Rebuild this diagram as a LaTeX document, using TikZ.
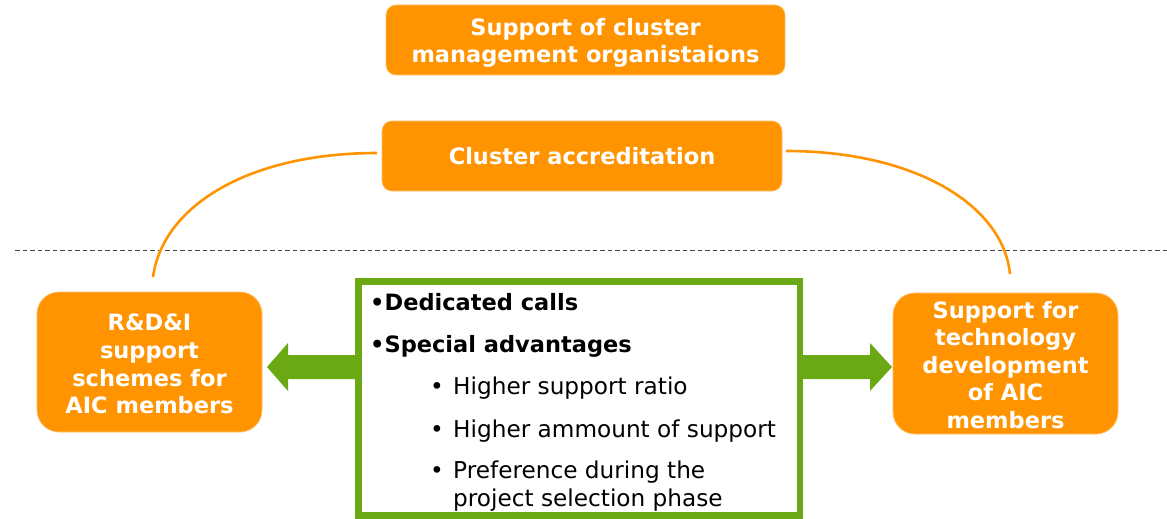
\documentclass[tikz,border=0pt]{standalone}
\usepackage{fontspec}
\setmainfont{DejaVu Sans}
\definecolor{aorange}{RGB}{255,148,0}
\definecolor{agreen}{RGB}{106,168,20}
\definecolor{adash}{RGB}{70,70,70}
\begin{document}
\begin{tikzpicture}[x=1pt,y=-1pt,
  obox/.style={fill=aorange,draw=aorange!60!white,line width=0.8pt,text=white,
    font=\fontsize{22.5}{27.5}\selectfont\bfseries,align=center,inner sep=0pt},
  topbox/.style={obox,rounded corners=10pt},
  sidebox/.style={obox,rounded corners=22pt},
  wtext/.style={text=white,font=\fontsize{22.5}{27}\selectfont\bfseries,align=center,inner sep=0pt},
  arc/.style={draw=aorange,line width=2.6pt},
  txt/.style={anchor=base west,inner sep=0pt,font=\fontsize{23.2}{28}\selectfont},
  btxt/.style={anchor=base west,inner sep=0pt,font=\fontsize{22.5}{28}\selectfont\bfseries},
  arrowfill/.style={fill=agreen}]
\useasboundingbox (0,0) rectangle (1167,519);
% boxes
\node[topbox,minimum width=399pt,minimum height=70pt] (cmo) at (585.5,40) {};
\node[wtext] (cmotext) at (585.5,43) {Support of cluster\\management organistaions};
\node[topbox,minimum width=400pt,minimum height=70pt] (acc) at (582,156) {Cluster accreditation};
\node[sidebox,minimum width=225pt,minimum height=140pt] (rd) at (149.5,362) {};
\node[wtext,font=\fontsize{22.5}{27.7}\selectfont\bfseries] (rdtext) at (149.5,364) {R\&D\&I\\support\\schemes for\\AIC members};
\node[sidebox,minimum width=225pt,minimum height=141pt] (tech) at (1005.5,363.5) {};
\node[wtext,font=\fontsize{22.5}{27.5}\selectfont\bfseries] (techtext) at (1005.5,365) {Support for\\technology\\development\\of AIC\\members};
% dashed line
\coordinate (dl) at (15,250);
\coordinate (dr) at (1167,250);
\draw[adash,line width=1pt,dash pattern=on 4.5pt off 3pt] (dl) -- (dr);
% arcs
\coordinate (la) at (377,153);
\coordinate (lb) at (153,277);
\coordinate (ra) at (786,151);
\coordinate (rb) at (1010,274);
\draw[arc] (la) .. controls (250,153) and (163,205) .. (lb);
\draw[arc] (ra) .. controls (915,151) and (1003,205) .. (rb);
% green box
\node[draw=agreen,line width=6.5pt,fill=white,minimum width=441.5pt,minimum height=234pt,inner sep=0pt] (gb) at (579,398.5) {};
% arrows
\fill[arrowfill] (356,355) -- (288,355) -- (288,343) -- (267,367) -- (288,391) -- (288,379) -- (356,379) -- cycle;
\fill[arrowfill] (802,355) -- (870,355) -- (870,343) -- (892,367) -- (870,391) -- (870,379) -- (802,379) -- cycle;
% text in green box
\node[btxt] (t1) at (370,310) {•Dedicated calls};
\node[btxt] (t2) at (370,352) {•Special advantages};
\node[txt] (b1) at (430,394) {•};
\node[txt] (s1) at (453,394) {Higher support ratio};
\node[txt] (b2) at (430,437) {•};
\node[txt] (s2) at (453,437) {Higher ammount of support};
\node[txt] (b3) at (430,478) {•};
\node[txt] (s3) at (453,478) {Preference during the};
\node[txt] (s4) at (453,506) {project selection phase};
\end{tikzpicture}
\end{document}
